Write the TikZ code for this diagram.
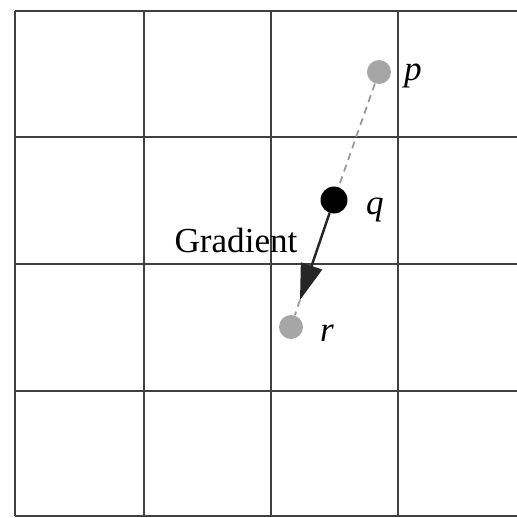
\documentclass[tikz,border=0pt]{standalone}
\usepackage{fontspec}
\setmainfont{Liberation Serif}
\usetikzlibrary{arrows.meta,positioning}
\tikzset{
    gridline/.style = {line width=1.6pt, draw=black!75},
    dot/.style      = {circle, inner sep=0pt, minimum size=0.48cm},
    lbl/.style      = {font=\fontsize{20}{24}\selectfont\itshape, text=black}
}
\begin{document}
\begin{tikzpicture}[x=0.02cm, y=-0.02cm,
        trail/.style = {dashed, line width=1pt, draw=black!40, dash pattern=on 4pt off 3pt},
        grad/.style  = {-{Triangle[length=0.72cm, width=0.44cm]}, line width=1.4pt, draw=black!85, fill=black}
    ]
        \useasboundingbox (0,0) rectangle (517,518);

        % Grid
        \foreach \y in {11, 137, 264, 391, 516}
            \draw[gridline] (15,\y) -- (517,\y);
        \foreach \x in {15, 144, 271, 398}
            \draw[gridline] (\x,11) -- (\x,516);

        % Points
        \node[dot, fill=black!35] (p) at (379, 72) {};
        \node[dot, fill=black, minimum size=0.54cm] (q) at (334, 200) {};
        \node[dot, fill=black!35] (r) at (291, 327) {};
        \coordinate (tip) at (300, 300);

        % Labels
        \node[lbl] (plbl) at (413, 76) {p};
        \node[lbl] (qlbl) at (375, 210) {q};
        \node[lbl] (rlbl) at (327, 333) {r};
        \node[font=\fontsize{20}{24}\selectfont] (gradlbl) at (236, 240) {Gradient};

        % Connectors
        \draw[trail] (p) -- (q);
        \draw[grad] (q) -- (tip);
        \draw[trail] (tip) -- (r);
\end{tikzpicture}
\end{document}
